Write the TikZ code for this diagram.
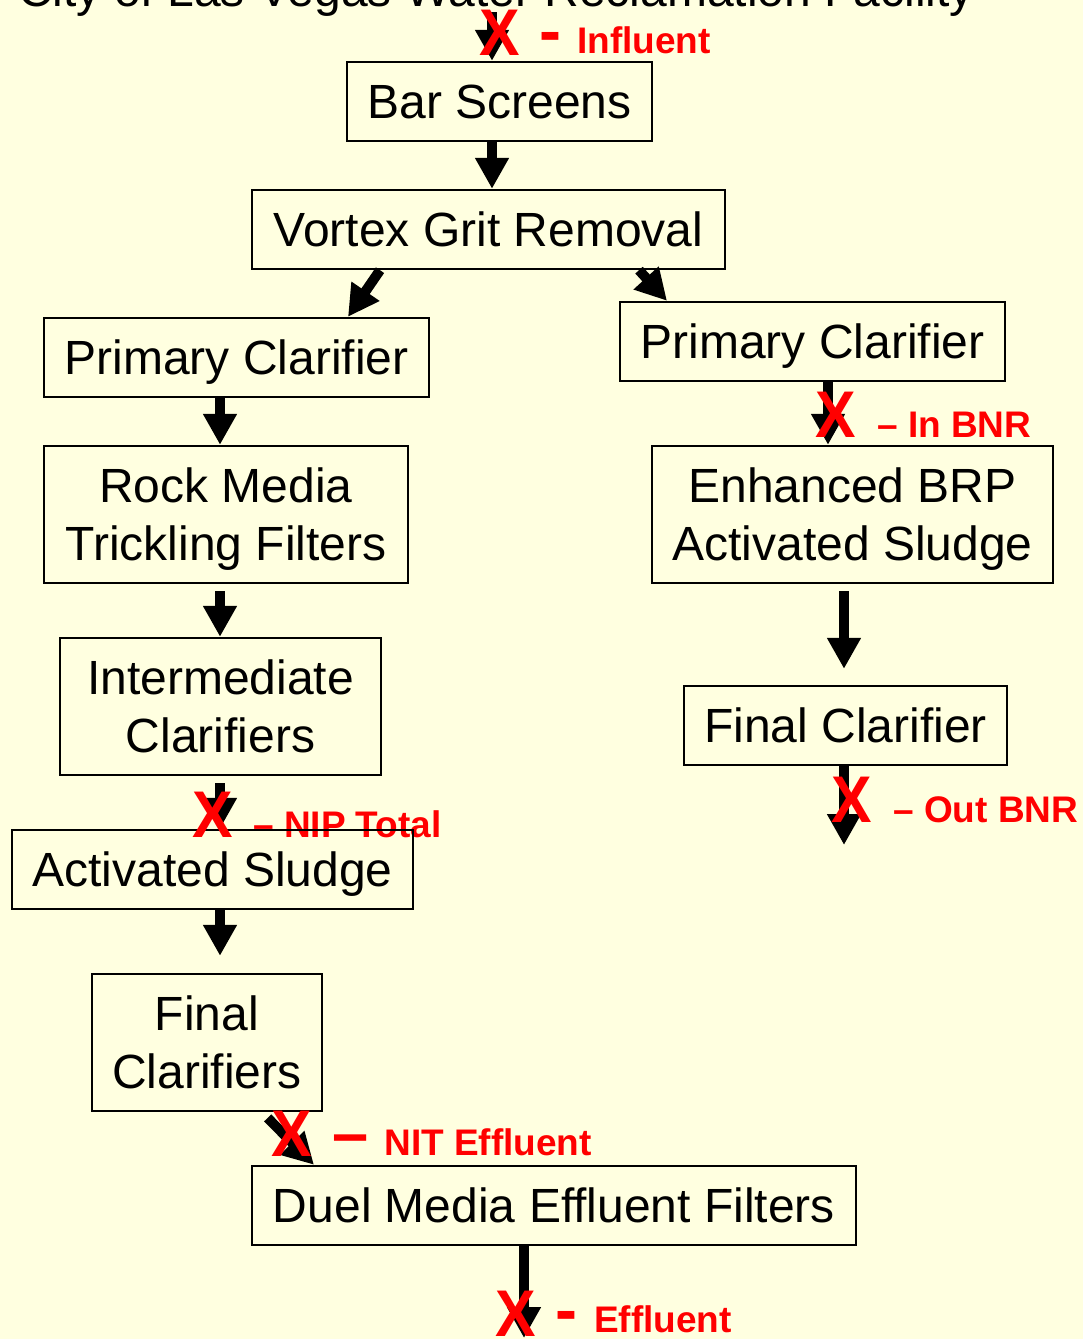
\documentclass[tikz,border=0pt]{standalone}
\usepackage{fontspec}
\setmainfont{Liberation Sans}
\usetikzlibrary{arrows.meta}

\definecolor{paper}{RGB}{255,255,224}
\newcommand{\boxfont}{\fontsize{48}{58}\selectfont}
\newcommand{\tagfont}{\fontsize{37}{40}\selectfont\bfseries}
\newcommand{\xfont}{\fontsize{66}{66}\selectfont\bfseries}
\newcommand{\xsign}{\scalebox{0.92}[1]{X}}

\begin{document}
\begin{tikzpicture}[
        x=1pt, y=-1pt,
        flow/.style={-{Triangle[width=32pt,length=31pt]}, line width=10pt, black},
        stage_box/.style={rectangle, draw=black, line width=2.4pt, inner sep=0pt, align=center, font=\boxfont, text depth=0pt},
        tag_text/.style={anchor=base west, inner sep=0pt, red, font=\tagfont},
        x_mark/.style={anchor=base, inner sep=0pt, red, font=\xfont}
    ]
    % Page
    \useasboundingbox (0,0) rectangle (1083,1339);
    \fill[paper] (0,0) rectangle (1083,1339);

    % Title, cut by the top edge
    \node[anchor=base west, inner sep=0pt, font=\boxfont] (title) at (18,6) {City of Las Vegas Water Reclamation Facility};

    % Sampling point labels
    \node[tag_text] (t_inf) at (539,53) {{\xfont -}\hspace{16pt}Influent};
    \node[tag_text] (t_inbnr) at (877,437) {-- In BNR};
    \node[tag_text] (t_outbnr) at (893,822) {-- Out BNR};
    \node[tag_text] (t_nip) at (253,837) {-- NIP Total};
    \node[tag_text] (t_nit) at (332,1155) {{\fontsize{65}{65}\selectfont --}\hspace{16pt}NIT Effluent};
    \node[tag_text] (t_eff) at (555,1332) {{\xfont -}\hspace{17pt}Effluent};

    % Process stages
    \node[stage_box, minimum width=305pt, minimum height=79pt] (bars) at (499.5,101.5) {Bar Screens};
    \node[stage_box, minimum width=473pt, minimum height=79pt] (vortex) at (488.5,229.5) {Vortex Grit Removal};
    \node[stage_box, minimum width=385pt, minimum height=79pt] (pc_left) at (236.5,357.5) {Primary Clarifier};
    \node[stage_box, minimum width=385pt, minimum height=79pt] (pc_right) at (812.5,341.5) {Primary Clarifier};
    \node[stage_box, minimum width=364pt, minimum height=137pt] (rock) at (226,514.5) {Rock Media\\Trickling Filters};
    \node[stage_box, minimum width=401pt, minimum height=137pt] (ebrp) at (852.5,514.5) {Enhanced BRP\\Activated Sludge};
    \node[stage_box, minimum width=321pt, minimum height=137pt] (inter) at (220.5,706.5) {Intermediate\\Clarifiers};
    \node[stage_box, minimum width=323pt, minimum height=79pt] (fc_right) at (845.5,725.5) {Final Clarifier};
    \node[stage_box, minimum width=401pt, minimum height=79pt] (asl) at (212.5,869.5) {Activated Sludge};
    \node[stage_box, minimum width=230pt, minimum height=137pt] (fcs) at (207,1042.5) {Final\\Clarifiers};
    \node[stage_box, minimum width=604pt, minimum height=79pt] (duel) at (554,1205.5) {Duel Media Effluent Filters};

    % Free ends
    \coordinate (inlet) at (492,12);
    \coordinate (outlet) at (844,845);
    \coordinate (effluent) at (524,1338);

    % Flow arrows
    \draw[flow] (inlet) -- (bars.north -| inlet);
    \draw[flow] (bars.south -| 492,0) -- (vortex.north -| 492,0);
    \draw[flow] (vortex.south -| 380,0) -- (pc_left.north -| 348,0);
    \draw[flow] (vortex.south -| 639,0) -- (pc_right.north -| 667,0);
    \draw[flow] (pc_left.south -| 220,0) -- (rock.north -| 220,0);
    \draw[flow] (pc_right.south -| 828,0) -- (ebrp.north -| 828,0);
    \draw[flow, shorten <=7pt] (rock.south -| 220,0) -- (inter.north -| 220,0);
    \draw[flow, shorten <=7pt, shorten >=16pt] (ebrp.south -| 844,0) -- (fc_right.north -| 844,0);
    \draw[flow, shorten <=7pt] (inter.south -| 220,0) -- (asl.north -| 220,0);
    \draw[flow] (fc_right.south -| outlet) -- (outlet);
    \draw[flow, shorten >=17pt] (asl.south -| 220,0) -- (fcs.north -| 220,0);
    \draw[flow, shorten <=8pt] (fcs.south -| 262,0) -- (duel.north -| 314,0);
    \draw[flow] (duel.south -| effluent) -- (effluent);

    % Sampling marks
    \node[x_mark] (x_inf) at (500,55) {\xsign};
    \node[x_mark] (x_inbnr) at (836,437) {\xsign};
    \node[x_mark] (x_outbnr) at (852,822) {\xsign};
    \node[x_mark] (x_nip) at (213,837) {\xsign};
    \node[x_mark] (x_nit) at (292,1156) {\xsign};
    \node[x_mark] (x_eff) at (516,1336) {\xsign};
\end{tikzpicture}
\end{document}
